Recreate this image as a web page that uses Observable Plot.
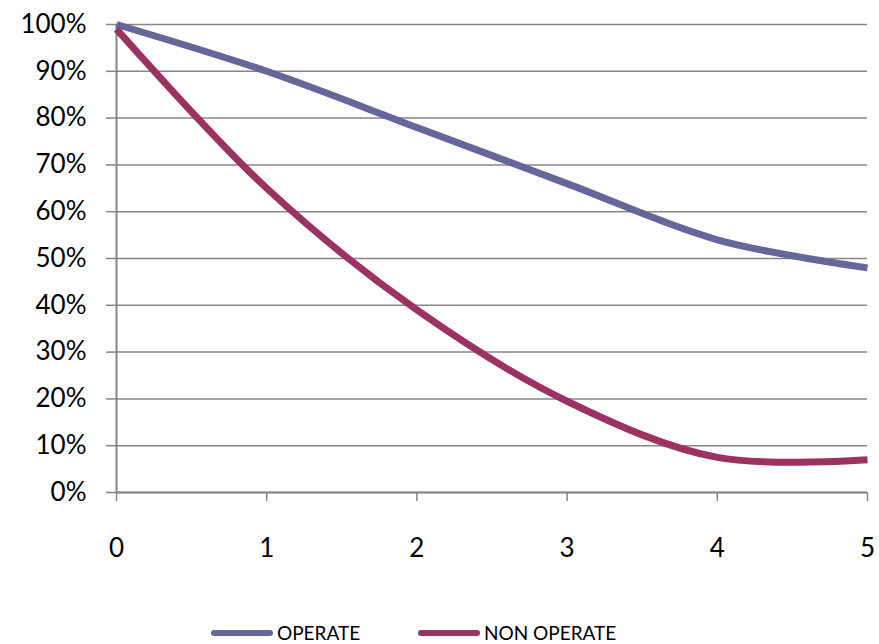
<!DOCTYPE html>
<html>
<head>
<meta charset="utf-8">
<script src="https://cdn.jsdelivr.net/npm/d3@7"></script>
<script src="https://cdn.jsdelivr.net/npm/@observablehq/plot@0.6"></script>
<style>
  html, body { margin: 0; padding: 0; background: #fff; }
  #wrap { position: relative; width: 879px; height: 644px; font-family: Lato, "Open Sans", sans-serif; }
  #legend { position: absolute; left: 0; top: 621px; width: 879px; height: 24px; }
  .item { position: absolute; top: 0; display: flex; align-items: center; font-size: 19px; color: #000; }
  .item span.sw { display: inline-block; width: 62px; height: 6px; border-radius: 3px; margin-right: 4px; }
</style>
</head>
<body>
<div id="wrap">
  <div id="chart"></div>
  <div id="legend"></div>
</div>
<script>
const years = [0, 1, 2, 3, 4, 5];
const operate = [100, 90, 78, 66, 54, 48];
const nonOperate = [99, 65, 39, 19.5, 7.5, 7];
const seriesNames = ["OPERATE", "NON OPERATE"];
const seriesColors = ["#65669A", "#9B3262"];
const yTicks = [0, 10, 20, 30, 40, 50, 60, 70, 80, 90, 100];
const xTicks = [0, 1, 2, 3, 4, 5];

const rows = [];
years.forEach((t, i) => {
  rows.push({x: t, y: operate[i], s: seriesNames[0]});
  rows.push({x: t, y: nonOperate[i], s: seriesNames[1]});
});

const chart = Plot.plot({
  width: 879,
  height: 600,
  marginLeft: 116,
  marginRight: 12,
  marginTop: 24,
  marginBottom: 108,
  style: {fontFamily: "Lato, 'Open Sans', sans-serif", fontSize: "26px", color: "#000", background: "#fff", overflow: "visible"},
  x: {domain: [0, 5], ticks: xTicks, label: null},
  y: {domain: [0, 100], ticks: yTicks, label: null},
  color: {domain: seriesNames, range: seriesColors},
  marks: [
    Plot.gridY(yTicks, {stroke: "#868686", strokeOpacity: 1, strokeWidth: 1.5}),
    Plot.ruleX([0], {stroke: "#868686", strokeWidth: 2}),
    Plot.ruleY([0], {stroke: "#868686", strokeWidth: 2}),
    Plot.axisY(yTicks, {tickSize: 10, tickPadding: 20, stroke: "#868686", strokeWidth: 1.5, fill: "#000", tickFormat: d => d + "%", fontSize: 26}),
    Plot.axisX(xTicks, {tickSize: 9, tickPadding: 37, stroke: "#868686", strokeWidth: 1.5, fill: "#000", tickFormat: d => String(d), fontSize: 26}),
    Plot.line(rows, {x: "x", y: "y", z: "s", stroke: "s", strokeWidth: 7, curve: "catmull-rom", strokeLinecap: "butt", strokeLinejoin: "round"})
  ]
});
document.getElementById("chart").appendChild(chart);

const legend = document.getElementById("legend");
const lefts = [211, 418];
seriesNames.forEach((n, i) => {
  const d = document.createElement("div");
  d.className = "item";
  d.style.left = lefts[i] + "px";
  d.innerHTML = `<span class="sw" style="background:${seriesColors[i]}"></span>${n}`;
  legend.appendChild(d);
});
</script>
</body>
</html>
